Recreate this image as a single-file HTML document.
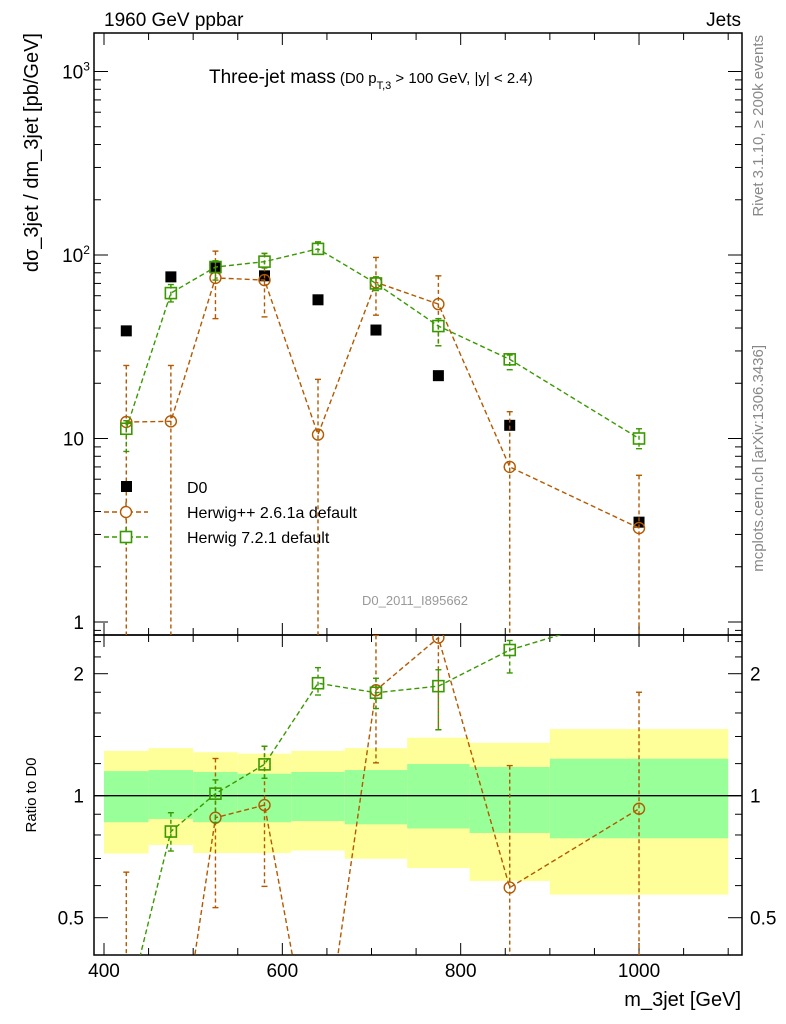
<!DOCTYPE html>
<html><head><meta charset="utf-8"><style>
html,body{margin:0;background:#fff;overflow:hidden;width:786px;height:1024px;}
svg{font-family:"Liberation Sans",sans-serif;display:block;}
</style></head><body>
<svg id="c" width="786" height="1024" xmlns="http://www.w3.org/2000/svg"></svg>
<script>
const xCenters=[425,475,525,580,640,705,775,855,1000];
const binEdges=[400,450,500,550,610,670,740,810,900,1100];
const d0=[38.6,76,85,77,57,39,22,11.8,3.5];
const hpp=[12.3,12.4,75,73,10.5,71,54,7,3.25];
const hppUp=[25,25,105,102,21,97,77,14,6.3];
const hppDn=[0.01,0.01,45,46,0.01,47,32,0.01,0.01];
const h7=[11.3,62,86,92,108,70,41,27,10];
const h7Up=[12.5,69,93,102,118,76,45,28.5,11.3];
const h7Dn=[8.5,55.5,73,85,101,64,32,23.7,8.8];
const yelHi=[1.29,1.31,1.28,1.27,1.29,1.31,1.39,1.35,1.46];
const yelLo=[0.72,0.756,0.722,0.722,0.732,0.699,0.663,0.616,0.57];
const grnHi=[1.15,1.157,1.144,1.133,1.144,1.157,1.197,1.177,1.234];
const grnLo=[0.86,0.876,0.86,0.86,0.866,0.85,0.83,0.809,0.785];
const xTicks=[400,600,800,1000];
const yTicksMain=[1,10,100,1000];
const ratioTicks=[0.5,1,2];

const L=94,R=742,T=33,M=635,B=955;
const X=v=>104+(v-400)*0.8917;
const Y=v=>255-(Math.log10(v)-2)*183.5;
const YR=v=>795.7-Math.log2(v)*122;
const svg=document.getElementById('c');
const NS='http://www.w3.org/2000/svg';
function mk(tag,attrs,parent){const e=document.createElementNS(NS,tag);for(const k in attrs)e.setAttribute(k,attrs[k]);(parent||svg).appendChild(e);return e;}
const defs=mk('defs',{});
const c1=mk('clipPath',{id:'cm'},defs);mk('rect',{x:L,y:T,width:R-L,height:M-T},c1);
const c2=mk('clipPath',{id:'cr'},defs);mk('rect',{x:L,y:M,width:R-L,height:B-M},c2);

const gb=mk('g',{'clip-path':'url(#cr)'});

for(let i=0;i<xCenters.length;i++){
 const x0=X(binEdges[i]),x1=X(binEdges[i+1]);
 let r=mk('rect',{x:x0,y:YR(yelHi[i]),width:x1-x0,height:YR(yelLo[i])-YR(yelHi[i]),fill:'#ffff99'},gb);
 
 r=mk('rect',{x:x0,y:YR(grnHi[i]),width:x1-x0,height:YR(grnLo[i])-YR(grnHi[i]),fill:'#99ff99'},gb);
 
}
mk('line',{x1:L,x2:R,y1:YR(1),y2:YR(1),stroke:'#000','stroke-width':1.3},gb);

function frame(y0,y1){mk('rect',{x:L,y:y0,width:R-L,height:y1-y0,fill:'none',stroke:'#000','stroke-width':1.5});}
frame(T,M);frame(M,B);
for(let v=400;v<=1100;v+=50){const x=X(v);if(x<L||x>R)continue;const big=v%200===0;const len=big?12:7;
 for(const [y0,dir] of [[T,1],[M,-1],[M,1],[B,-1]]) mk('line',{x1:x,x2:x,y1:y0,y2:y0+dir*len,stroke:'#000','stroke-width':1});}
xTicks.forEach(v=>{const t=mk('text',{x:X(v),y:977,'font-size':19,'text-anchor':'middle'});t.textContent=v;
 });
for(let d=-1;d<=3;d++)for(let m=1;m<10;m++){const v=m*Math.pow(10,d);const y=Y(v);if(y<T||y>M)continue;const len=m===1?14:7;
 mk('line',{x1:L,x2:L+len,y1:y,y2:y,stroke:'#000'});mk('line',{x1:R,x2:R-len,y1:y,y2:y,stroke:'#000'});}
const mainLbl=['1','10','10<tspan dy="-8" font-size="12">2</tspan>','10<tspan dy="-8" font-size="12">3</tspan>'];
yTicksMain.forEach((v,i)=>{const t=mk('text',{x:i>=2?76:84,y:Y(v)+7,'font-size':19,'text-anchor':i>=2?'middle':'end'});t.innerHTML=mainLbl[i];
 });
[0.4,0.5,0.6,0.7,0.8,0.9,1,1.2,1.4,1.6,1.8,2,2.2,2.4].forEach(v=>{const y=YR(v);if(y<M||y>B)return;const big=ratioTicks.includes(v);const len=big?14:7;
 mk('line',{x1:L,x2:L+len,y1:y,y2:y,stroke:'#000'});mk('line',{x1:R,x2:R-len,y1:y,y2:y,stroke:'#000'});});
ratioTicks.forEach(v=>{[[84,'end'],[750,'start']].forEach(([x,a])=>{const t=mk('text',{x:x,y:YR(v)+7,'font-size':19,'text-anchor':a});t.textContent=v;
 });});

function series(vals,up,dn,color,marker,yf,clip,name){
 const g=mk('g',{'clip-path':clip});
 const pts=vals.map((v,i)=>X(xCenters[i])+','+yf(v)).join(' ');
 if(marker!=='sq-fill')mk('polyline',{points:pts,fill:'none',stroke:color,'stroke-width':1.4,'stroke-dasharray':'5,3'},g);
 vals.forEach((v,i)=>{const x=X(xCenters[i]),y=yf(v);
  if(up){const yu=yf(up[i]),yd=yf(Math.max(dn[i],0.001));
   mk('line',{x1:x,x2:x,y1:yu,y2:yd,stroke:color,'stroke-width':1.4,'stroke-dasharray':'4,3'},g);
   mk('line',{x1:x-3,x2:x+3,y1:yu,y2:yu,stroke:color,'stroke-width':1.4},g);
   mk('line',{x1:x-3,x2:x+3,y1:yd,y2:yd,stroke:color,'stroke-width':1.4},g);}
  let m;
  if(marker==='sq-fill')m=mk('rect',{x:x-5.5,y:y-5.5,width:11,height:11,fill:'#000'},g);
  else if(marker==='circle')m=mk('circle',{cx:x,cy:y,r:5.5,fill:'none',stroke:color,'stroke-width':1.4},g);
  else m=mk('rect',{x:x-5.5,y:y-5.5,width:11,height:11,fill:'none',stroke:color,'stroke-width':1.6},g);
  
 });
}
const brown='#b35900',green='#3a9900';
series(d0,null,null,'#000','sq-fill',Y,'url(#cm)','d0-data');
series(hpp,hppUp,hppDn,brown,'circle',Y,'url(#cm)','herwigpp-series');
series(h7,h7Up,h7Dn,green,'square',Y,'url(#cm)','herwig7-series');
const rr=(a,i)=>a/d0[i];
series(hpp.map(rr),hppUp.map(rr),hppDn.map(rr),brown,'circle',YR,'url(#cr)','herwigpp-ratio');
series(h7.map(rr),h7Up.map(rr),h7Dn.map(rr),green,'square',YR,'url(#cr)','herwig7-ratio');

const lg=mk('g',{});
mk('rect',{x:121,y:481,width:11,height:11,fill:'#000'},lg);
mk('line',{x1:104,x2:148,y1:512,y2:512,stroke:brown,'stroke-width':1.4,'stroke-dasharray':'5,3'},lg);
mk('line',{x1:126,x2:126,y1:502,y2:522,stroke:brown,'stroke-width':1.4,'stroke-dasharray':'4,3'},lg);
mk('circle',{cx:126,cy:512,r:5.5,fill:'#fff',stroke:brown,'stroke-width':1.4},lg);
mk('line',{x1:104,x2:148,y1:537,y2:537,stroke:green,'stroke-width':1.4,'stroke-dasharray':'5,3'},lg);
mk('line',{x1:126,x2:126,y1:527,y2:547,stroke:green,'stroke-width':1.4,'stroke-dasharray':'4,3'},lg);
mk('rect',{x:120.5,y:531.5,width:11,height:11,fill:'#fff',stroke:green,'stroke-width':1.6},lg);
[['D0',493],['Herwig++ 2.6.1a default',518],['Herwig 7.2.1 default',543]].forEach(([s,y])=>{const t=mk('text',{x:187,y:y,'font-size':16},lg);t.textContent=s;
 });

function txt(s,a,name){const t=mk('text',a);t.innerHTML=s;return t;}
txt('1960 GeV ppbar',{x:104,y:26,'font-size':19},'header-left');
txt('Jets',{x:741,y:26,'font-size':19,'text-anchor':'end'},'header-right');
txt('Three-jet mass<tspan font-size="15"> (D0 p<tspan dy="6" font-size="11">T,3</tspan><tspan dy="-6"> &gt; 100 GeV, |y| &lt; 2.4)</tspan></tspan>',{x:209,y:83,'font-size':19},'plot-title');
txt('D0_2011_I895662',{x:415,y:605,'font-size':13,fill:'#999','text-anchor':'middle'},'analysis-id');
txt('m_3jet [GeV]',{x:741,y:1006,'font-size':20,'text-anchor':'end'},'x-axis-title');
txt('dσ_3jet / dm_3jet [pb/GeV]',{x:0,y:0,'font-size':20,'text-anchor':'end',transform:'translate(38,33) rotate(-90)'},'y-axis-title');
txt('Ratio to D0',{x:0,y:0,'font-size':15,'text-anchor':'middle',transform:'translate(36,795) rotate(-90)'},'ratio-axis-title');
txt('Rivet 3.1.10, ≥ 200k events',{x:0,y:0,'font-size':15,fill:'#888','text-anchor':'end',transform:'translate(763,35) rotate(-90)'},'rivet-label');
txt('mcplots.cern.ch [arXiv:1306.3436]',{x:0,y:0,'font-size':15,fill:'#888','text-anchor':'end',transform:'translate(763,345) rotate(-90)'},'mcplots-label');
</script>
</body></html>
